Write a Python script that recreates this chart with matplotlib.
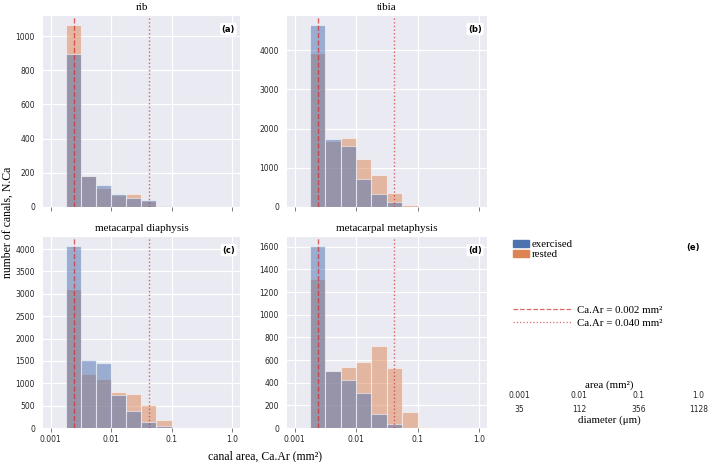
import numpy as np
import matplotlib
matplotlib.use("Agg")
import matplotlib.pyplot as plt
from matplotlib.patches import Patch
from matplotlib.lines import Line2D

# ---- data ----
bin_exponents = [-2.75, -2.5, -2.25, -2.0, -1.75, -1.5, -1.25, -1.0, -0.75]  # log10 of bin edges (mm^2)
panels = ["rib", "tibia", "metacarpal diaphysis", "metacarpal metaphysis"]
panel_tags = ["(a)", "(b)", "(c)", "(d)"]
exercised_rib = [895, 182, 127, 76, 53, 39, 5, 0]
rested_rib = [1064, 180, 113, 72, 74, 38, 3, 0]
exercised_tibia = [4640, 1745, 1555, 706, 340, 119, 6, 0]
rested_tibia = [3930, 1685, 1762, 1217, 817, 366, 60, 5]
exercised_mcd = [4065, 1525, 1443, 740, 380, 127, 37, 0]
rested_mcd = [3100, 1204, 1092, 815, 770, 523, 180, 6]
exercised_mcm = [1606, 505, 428, 313, 121, 32, 0, 0]
rested_mcm = [1314, 505, 537, 579, 720, 534, 139, 10]
exercised = [exercised_rib, exercised_tibia, exercised_mcd, exercised_mcm]
rested = [rested_rib, rested_tibia, rested_mcd, rested_mcm]
line_small = 0.0024
line_large = 0.042
area_ticks = [0.001, 0.01, 0.1, 1.0]
area_labels = ["0.001", "0.01", "0.1", "1.0"]
diameter_labels = ["35", "112", "356", "1128"]

yticks = [[0, 200, 400, 600, 800, 1000],
          [0, 1000, 2000, 3000, 4000],
          [0, 500, 1000, 1500, 2000, 2500, 3000, 3500, 4000],
          [0, 200, 400, 600, 800, 1000, 1200, 1400, 1600]]

# ---- style ----
W, H = 709, 462
SERIF = ["Liberation Serif", "DejaVu Serif"]
plt.rcParams.update({
    "font.family": ["DejaVu Sans"],
    "axes.facecolor": "#EAEAF2",
    "axes.edgecolor": "white",
    "grid.color": "white",
    "grid.linewidth": 0.9,
    "xtick.color": "#262626",
    "ytick.color": "#262626",
    "xtick.labelsize": 5.5,
    "ytick.labelsize": 5.5,
})
BLUE = "#4C72B0"
ORANGE = "#DD8452"
RED = "#d62728"

fig = plt.figure(figsize=(W / 100, H / 100), dpi=100)


def px_axes(left, top, right, bottom):
    return fig.add_axes([left / W, 1 - bottom / H, (right - left) / W, (bottom - top) / H])


boxes = [(43, 16, 240, 207), (287, 16, 487, 207), (43, 237, 240, 428), (287, 237, 487, 428)]
edges = [10 ** e for e in bin_exponents]
centers = [np.sqrt(edges[i] * edges[i + 1]) for i in range(len(edges) - 1)]
xlim = (10 ** -3.125, 10 ** 0.13)

for i, box in enumerate(boxes):
    ax = px_axes(*box)
    ax.set_xscale("log")
    ax.hist(centers, bins=edges, weights=rested[i], color=ORANGE, alpha=0.5,
            edgecolor="white", linewidth=0.8)
    ax.hist(centers, bins=edges, weights=exercised[i], color=BLUE, alpha=0.5,
            edgecolor="white", linewidth=0.8)
    ax.axvline(line_small, color=RED, ls="--", lw=1.0, alpha=0.7)
    ax.axvline(line_large, color=RED, ls=":", lw=1.0, alpha=0.7)
    ax.set_xlim(*xlim)
    ax.set_xticks(area_ticks)
    ax.xaxis.set_minor_locator(matplotlib.ticker.NullLocator())
    ax.set_yticks(yticks[i])
    ax.grid(True, which="major")
    ax.set_axisbelow(True)
    for s in ax.spines.values():
        s.set_visible(False)
    ax.tick_params(axis="x", length=3, width=0.6, pad=2, color="#666666")
    ax.tick_params(axis="y", length=0, pad=5.8)
    if i < 2:
        ax.set_xticklabels([])
    else:
        ax.set_xticklabels(area_labels)
    ax.set_title(panels[i], family=SERIF, fontsize=8, pad=4)
    ax.text(0.975, 0.955, panel_tags[i], transform=ax.transAxes, ha="right", va="top",
            fontsize=6, fontweight="bold",
            bbox=dict(boxstyle="round,pad=0.2", fc="white", ec="none"))

# panel (e): legends and area/diameter scale
ax_leg = px_axes(509, 237, 706, 428)
ax_leg.axis("off")
leg1 = ax_leg.legend(handles=[Patch(color=BLUE, label="exercised"),
                              Patch(color=ORANGE, label="rested")],
                     loc="upper left", bbox_to_anchor=(0.0, 1.005), frameon=False,
                     prop={"family": SERIF, "size": 7.8}, handlelength=1.4, handleheight=0.55,
                     handletextpad=0.3, labelspacing=0.05, borderaxespad=0)
ax_leg.add_artist(leg1)
ax_leg.legend(handles=[Line2D([], [], color=RED, ls="--", lw=0.9, alpha=0.7,
                              label="Ca.Ar = 0.002 mm²"),
                       Line2D([], [], color=RED, ls=":", lw=0.9, alpha=0.7,
                              label="Ca.Ar = 0.040 mm²")],
              loc="upper left", bbox_to_anchor=(0.0, 0.665), frameon=False,
              prop={"family": SERIF, "size": 7.8}, handlelength=5.35,
              handletextpad=0.55, labelspacing=0.35, borderaxespad=0)
fig.text(693 / W, 1 - 247 / H, "(e)", fontsize=6, fontweight="bold", ha="center", va="center")

ax_e = px_axes(512, 402, 706, 402.5)
ax_e.set_xscale("log")
ax_e.set_xlim(*xlim)
ax_e.set_facecolor("none")
for s in ax_e.spines.values():
    s.set_visible(False)
ax_e.set_yticks([])
ax_e.set_xticks(area_ticks)
ax_e.xaxis.set_minor_locator(matplotlib.ticker.NullLocator())
ax_e.set_xticklabels(diameter_labels)
ax_e.tick_params(axis="x", length=0, pad=2)
ax_e.set_xlabel("diameter (μm)", family=SERIF, fontsize=7.8, labelpad=1)
ax_top = ax_e.twiny()
ax_top.set_xscale("log")
ax_top.set_xlim(*xlim)
for s in ax_top.spines.values():
    s.set_visible(False)
ax_top.set_xticks(area_ticks)
ax_top.xaxis.set_minor_locator(matplotlib.ticker.NullLocator())
ax_top.set_xticklabels(area_labels)
ax_top.tick_params(axis="x", length=0, pad=1.5)
ax_top.set_xlabel("area (mm²)", family=SERIF, fontsize=7.8, labelpad=2)

# shared labels
fig.text(8 / W, 1 - 222 / H, "number of canals, N.Ca", family=SERIF, fontsize=8.5,
         rotation=90, ha="center", va="center")
fig.text(265 / W, 1 - 456 / H, "canal area, Ca.Ar (mm²)", family=SERIF, fontsize=8.5,
         ha="center", va="center")

fig.savefig("out.png", dpi=100)
